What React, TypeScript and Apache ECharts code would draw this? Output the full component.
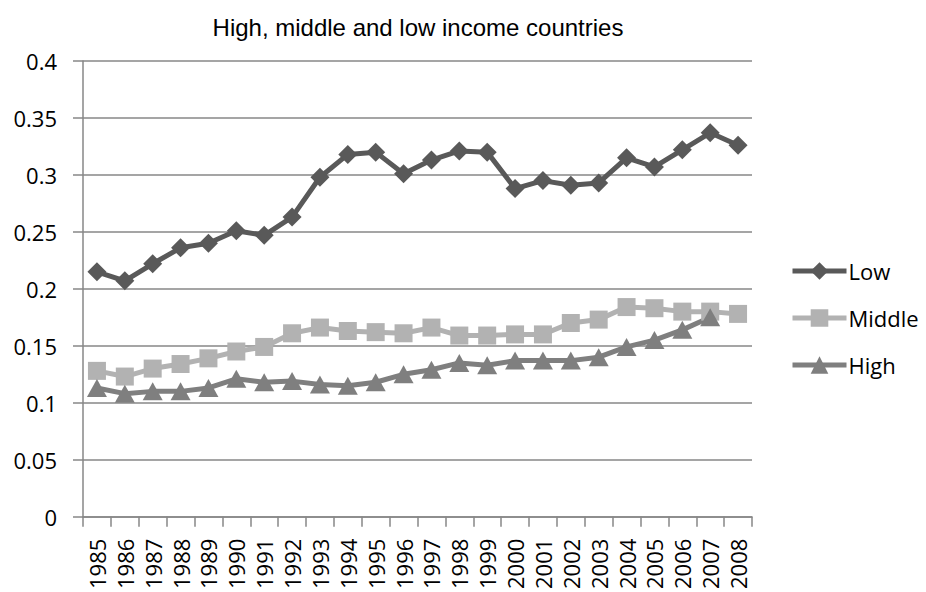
import React, { useEffect, useRef } from "react";
import * as echarts from "echarts";

const years = [
  "1985", "1986", "1987", "1988", "1989", "1990", "1991", "1992", "1993", "1994", "1995", "1996",
  "1997", "1998", "1999", "2000", "2001", "2002", "2003", "2004", "2005", "2006", "2007", "2008",
];

const lowIncome = [
  0.215, 0.207, 0.222, 0.236, 0.240, 0.251, 0.247, 0.263, 0.298, 0.318, 0.320, 0.301,
  0.313, 0.321, 0.320, 0.288, 0.295, 0.291, 0.293, 0.315, 0.307, 0.322, 0.337, 0.326,
];

const middleIncome = [
  0.128, 0.123, 0.130, 0.134, 0.139, 0.145, 0.149, 0.161, 0.166, 0.163, 0.162, 0.161,
  0.166, 0.159, 0.159, 0.160, 0.160, 0.170, 0.173, 0.184, 0.183, 0.180, 0.180, 0.178,
];

const highIncome = [
  0.113, 0.108, 0.110, 0.110, 0.113, 0.121, 0.118, 0.119, 0.116, 0.115, 0.118, 0.125,
  0.129, 0.135, 0.133, 0.137, 0.137, 0.137, 0.140, 0.149, 0.155, 0.164, 0.175, null,
];

const AXIS_FONT = "'Open Sans', sans-serif";

export default function App() {
  const ref = useRef<HTMLDivElement>(null);

  useEffect(() => {
    if (!ref.current) return;
    const chart = echarts.init(ref.current, null, { renderer: "svg" });
    const lineSeries = (name: string, data: (number | null)[], color: string, symbol: string, size: number | number[]) => ({
      name,
      type: "line",
      data,
      symbol,
      symbolSize: size,
      showAllSymbol: true,
      connectNulls: false,
      lineStyle: { color, width: 5 },
      itemStyle: { color },
    });
    chart.setOption({
      animation: false,
      backgroundColor: "#ffffff",
      title: {
        text: "High, middle and low income countries",
        left: 413,
        textAlign: "center",
        top: 10,
        textStyle: { fontFamily: "'Liberation Sans', Arial, sans-serif", fontSize: 24, fontWeight: "normal", color: "#000" },
      },
      legend: {
        orient: "vertical",
        left: 785,
        top: 255,
        itemWidth: 54,
        itemHeight: 22,
        itemGap: 25,
        lineStyle: { width: 5 },
        textStyle: { fontFamily: AXIS_FONT, fontSize: 22, lineHeight: 22, color: "#000", padding: [0, 0, 0, -3] },
        data: ["Low", "Middle", "High"],
      },
      grid: { left: 83, right: 174, top: 61, bottom: 75, containLabel: false },
      xAxis: {
        type: "category",
        data: years,
        boundaryGap: true,
        axisLine: { lineStyle: { color: "#878787", width: 1.5 } },
        axisTick: { show: true, length: 10, lineStyle: { color: "#878787", width: 1.5 } },
        axisLabel: { rotate: 90, fontFamily: AXIS_FONT, fontSize: 22, color: "#000", margin: 22, interval: 0 },
      },
      yAxis: {
        type: "value",
        min: 0,
        max: 0.4,
        interval: 0.05,
        axisLine: { show: true, lineStyle: { color: "#878787", width: 1.5 } },
        axisTick: { show: true, length: 10, lineStyle: { color: "#878787", width: 1.5 } },
        splitLine: { lineStyle: { color: "#878787", width: 1.5 } },
        axisLabel: {
          fontFamily: AXIS_FONT,
          fontSize: 22,
          color: "#000",
          margin: 26,
          formatter: (v: number) => String(parseFloat(v.toFixed(2))),
        },
      },
      series: [
        lineSeries("Low", lowIncome, "#595959", "diamond", 19),
        lineSeries("Middle", middleIncome, "#b2b2b2", "rect", 18),
        lineSeries("High", highIncome, "#7f7f7f", "triangle", [20, 18]),
      ],
    });
    return () => chart.dispose();
  }, []);

  return <div ref={ref} style={{ width: 926, height: 592, position: "absolute", left: 0, top: 0 }} />;
}
